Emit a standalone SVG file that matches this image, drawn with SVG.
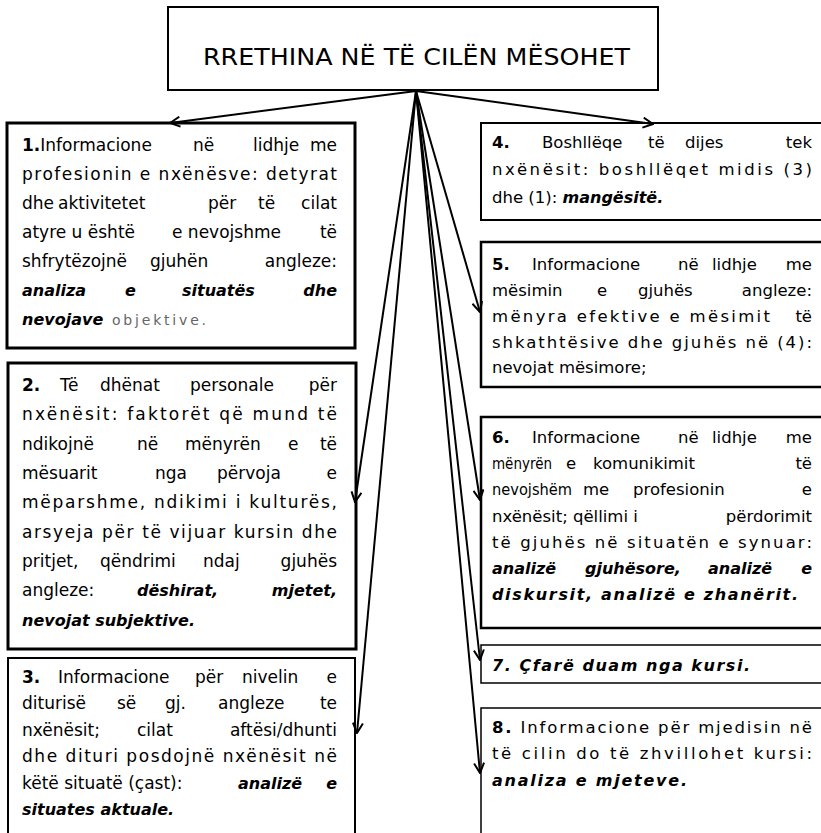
<svg xmlns="http://www.w3.org/2000/svg" width="821" height="833" viewBox="0 0 821 833">
<style>
.box{fill:#fff;stroke:#000}
.t{font-family:"DejaVu Sans",Verdana,sans-serif;font-size:17px;fill:#000}
.r{font-size:16.5px}
.b{font-weight:bold}
.bi{font-weight:bold;font-style:italic;font-size:16px}
.e{text-anchor:end}
.g{fill:#666;font-size:14px}
.c{fill:none;stroke:#000;stroke-width:2}
</style>
<defs>
<marker id="ah" viewBox="0 0 12 12" refX="11" refY="6" markerWidth="12" markerHeight="12" orient="auto" markerUnits="userSpaceOnUse">
<path d="M1,1 L11,6 L1,11" fill="none" stroke="#000" stroke-width="2"/>
</marker>
</defs>
<rect width="821" height="833" fill="#fff"/>

<g id="title">
<rect class="box" x="168" y="7" width="490" height="83" stroke-width="2"/>
<text class="t" x="203" y="65" style="font-size:23px" textLength="427" lengthAdjust="spacingAndGlyphs">RRETHINA NË TË CILËN MËSOHET</text>
</g>

<g id="node1">
<rect class="box" x="7" y="123" width="348" height="225" stroke-width="3"/>
<text class="t" x="22" y="151"><tspan class="b">1.</tspan>Informacione</text>
<text class="t" x="193" y="151">në</text>
<text class="t" x="253" y="151">lidhje</text>
<text class="t e" x="337" y="151">me</text>
<text class="t" x="22" y="180" textLength="315" lengthAdjust="spacing">profesionin e nxënësve: detyrat</text>
<text class="t" x="22" y="209">dhe</text>
<text class="t" x="58" y="209">aktivitetet</text>
<text class="t" x="208" y="209">për</text>
<text class="t" x="258" y="209">të</text>
<text class="t e" x="337" y="209">cilat</text>
<text class="t" x="22" y="238">atyre u është</text>
<text class="t" x="172" y="238">e nevojshme</text>
<text class="t e" x="337" y="238">të</text>
<text class="t" x="22" y="267">shfrytëzojnë</text>
<text class="t" x="150" y="267">gjuhën</text>
<text class="t e" x="337" y="267">angleze:</text>
<text class="t bi" x="22" y="296">analiza</text>
<text class="t bi" x="125" y="296">e</text>
<text class="t bi" x="182" y="296">situatës</text>
<text class="t bi e" x="337" y="296">dhe</text>
<text class="t bi" x="22" y="325">nevojave</text>
<text class="t g" x="112" y="325" textLength="94" lengthAdjust="spacing">objektive.</text>
</g>

<g id="node2">
<rect class="box" x="8" y="363" width="348" height="286" stroke-width="3"/>
<text class="t b" x="22" y="391">2.</text>
<text class="t" x="60" y="391">Të</text>
<text class="t" x="100" y="391">dhënat</text>
<text class="t" x="190" y="391">personale</text>
<text class="t e" x="337" y="391">për</text>
<text class="t" x="22" y="420" textLength="315" lengthAdjust="spacing">nxënësit: faktorët që mund të</text>
<text class="t" x="22" y="450">ndikojnë</text>
<text class="t" x="137" y="450">në</text>
<text class="t" x="185" y="450">mënyrën</text>
<text class="t" x="288" y="450">e</text>
<text class="t e" x="337" y="450">të</text>
<text class="t" x="22" y="479">mësuarit</text>
<text class="t" x="155" y="479">nga</text>
<text class="t" x="217" y="479">përvoja</text>
<text class="t e" x="337" y="479">e</text>
<text class="t" x="22" y="508" textLength="315" lengthAdjust="spacing">mëparshme, ndikimi i kulturës,</text>
<text class="t" x="22" y="538" textLength="315" lengthAdjust="spacing">arsyeja për të vijuar kursin dhe</text>
<text class="t" x="22" y="567">pritjet,</text>
<text class="t" x="100" y="567">qëndrimi</text>
<text class="t" x="203" y="567">ndaj</text>
<text class="t e" x="337" y="567">gjuhës</text>
<text class="t" x="22" y="596">angleze:</text>
<text class="t bi" x="137" y="596">dëshirat,</text>
<text class="t bi e" x="337" y="596">mjetet,</text>
<text class="t bi" x="22" y="626">nevojat subjektive.</text>
</g>

<g id="node3">
<rect class="box" x="8" y="658" width="347" height="200" stroke-width="2"/>
<text class="t b" x="22" y="683">3.</text>
<text class="t" x="58" y="683">Informacione</text>
<text class="t" x="195" y="683">për</text>
<text class="t" x="242" y="683">nivelin</text>
<text class="t e" x="337" y="683">e</text>
<text class="t" x="22" y="709">diturisë</text>
<text class="t" x="117" y="709">së</text>
<text class="t" x="165" y="709">gj.</text>
<text class="t" x="218" y="709">angleze</text>
<text class="t e" x="337" y="709">te</text>
<text class="t" x="22" y="736">nxënësit;</text>
<text class="t" x="137" y="736">cilat</text>
<text class="t e" x="337" y="736">aftësi/dhunti</text>
<text class="t" x="22" y="762" textLength="315" lengthAdjust="spacing">dhe dituri posdojnë nxënësit në</text>
<text class="t" x="22" y="789">këtë situatë (çast):</text>
<text class="t bi" x="238" y="789">analizë</text>
<text class="t bi e" x="337" y="789">e</text>
<text class="t bi" x="22" y="815">situates aktuale.</text>
</g>

<g id="node4">
<rect class="box" x="481" y="123" width="345" height="97" stroke-width="2"/>
<text class="t r b" x="492" y="148">4.</text>
<text class="t r" x="542" y="148">Boshllëqe</text>
<text class="t r" x="648" y="148">të</text>
<text class="t r" x="685" y="148">dijes</text>
<text class="t r e" x="812" y="148">tek</text>
<text class="t r" x="492" y="175" textLength="320" lengthAdjust="spacing">nxënësit: boshllëqet midis (3)</text>
<text class="t r" x="492" y="203">dhe (1): <tspan class="bi">mangësitë.</tspan></text>
</g>

<g id="node5">
<rect class="box" x="481" y="242" width="345" height="145" stroke-width="2.5"/>
<text class="t r b" x="492" y="270">5.</text>
<text class="t r" x="532" y="270">Informacione</text>
<text class="t r" x="678" y="270">në</text>
<text class="t r" x="712" y="270">lidhje</text>
<text class="t r e" x="812" y="270">me</text>
<text class="t r" x="492" y="296">mësimin</text>
<text class="t r" x="597" y="296">e</text>
<text class="t r" x="638" y="296">gjuhës</text>
<text class="t r e" x="812" y="296">angleze:</text>
<text class="t r" x="492" y="322" textLength="278" lengthAdjust="spacing">mënyra efektive e mësimit</text>
<text class="t r e" x="812" y="322">të</text>
<text class="t r" x="492" y="348" textLength="320" lengthAdjust="spacing">shkathtësive dhe gjuhës në (4):</text>
<text class="t r" x="492" y="373">nevojat mësimore;</text>
</g>

<g id="node6">
<rect class="box" x="481" y="417" width="345" height="211" stroke-width="2.5"/>
<text class="t r b" x="492" y="443">6.</text>
<text class="t r" x="532" y="443">Informacione</text>
<text class="t r" x="678" y="443">në</text>
<text class="t r" x="712" y="443">lidhje</text>
<text class="t r e" x="812" y="443">me</text>
<text class="t r" x="492" y="469" textLength="60" lengthAdjust="spacingAndGlyphs">mënyrën</text>
<text class="t r" x="566" y="469">e</text>
<text class="t r" x="593" y="469">komunikimit</text>
<text class="t r e" x="812" y="469">të</text>
<text class="t r" x="492" y="495" textLength="80" lengthAdjust="spacingAndGlyphs">nevojshëm</text>
<text class="t r" x="583" y="495">me</text>
<text class="t r" x="633" y="495">profesionin</text>
<text class="t r e" x="812" y="495">e</text>
<text class="t r" x="492" y="522">nxënësit; qëllimi i</text>
<text class="t r e" x="812" y="522">përdorimit</text>
<text class="t r" x="492" y="548" textLength="320" lengthAdjust="spacing">të gjuhës në situatën e synuar:</text>
<text class="t bi" x="492" y="574">analizë</text>
<text class="t bi" x="585" y="574">gjuhësore,</text>
<text class="t bi" x="708" y="574">analizë</text>
<text class="t bi e" x="812" y="574">e</text>
<text class="t bi" x="492" y="600" textLength="306" lengthAdjust="spacing">diskursit, analizë e zhanërit.</text>
</g>

<g id="node7">
<rect class="box" x="481" y="645" width="345" height="38" stroke-width="1.5"/>
<text class="t bi" x="492" y="671" textLength="258" lengthAdjust="spacing">7. Çfarë duam nga kursi.</text>
</g>

<g id="node8">
<rect class="box" x="481" y="708" width="345" height="200" stroke-width="1.5"/>
<text class="t r" x="492" y="733" textLength="320" lengthAdjust="spacing"><tspan class="b">8.</tspan> Informacione për mjedisin në</text>
<text class="t r" x="492" y="759" textLength="320" lengthAdjust="spacing">të cilin do të zhvillohet kursi:</text>
<text class="t bi" x="492" y="786" textLength="195" lengthAdjust="spacing">analiza e mjeteve.</text>
</g>

<g id="connectors">
<line class="c" x1="416" y1="91" x2="170" y2="123" marker-end="url(#ah)"/>
<line class="c" x1="416" y1="91" x2="653" y2="124" marker-end="url(#ah)"/>
<line class="c" x1="416" y1="91" x2="355" y2="502" marker-end="url(#ah)"/>
<line class="c" x1="416" y1="91" x2="357" y2="733" marker-end="url(#ah)"/>
<line class="c" x1="416" y1="91" x2="480" y2="312" marker-end="url(#ah)"/>
<line class="c" x1="416" y1="91" x2="480" y2="500" marker-end="url(#ah)"/>
<line class="c" x1="416" y1="91" x2="480" y2="660" marker-end="url(#ah)"/>
<line class="c" x1="416" y1="91" x2="480" y2="773" marker-end="url(#ah)"/>
</g>
</svg>
